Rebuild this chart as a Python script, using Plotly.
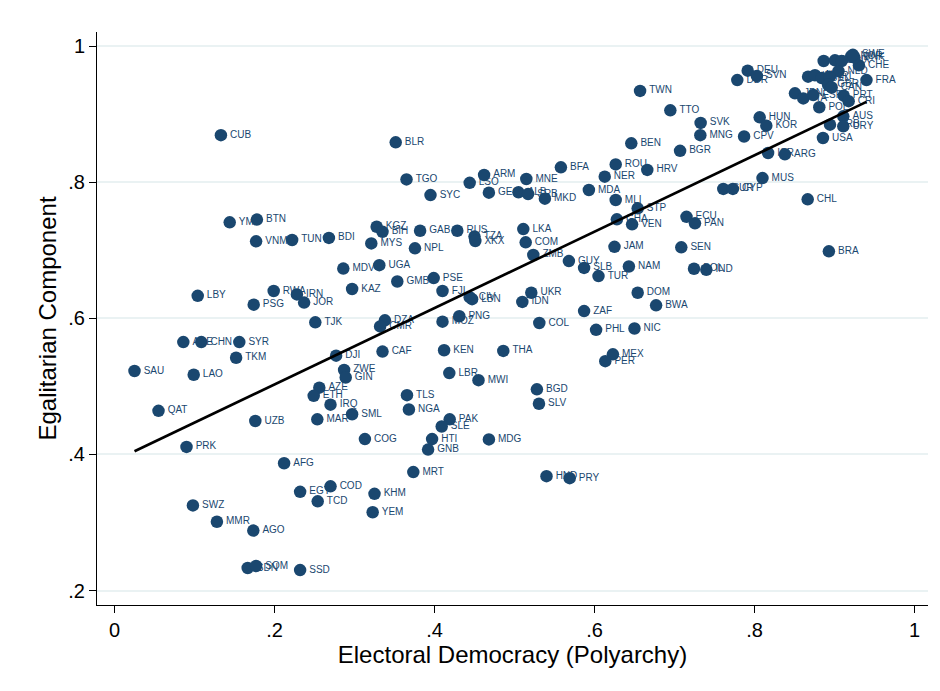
import plotly.graph_objects as go

# ---- data ----
codes = [
    "CUB","YMD","BTN","VNM","TUN","BDI","MYS","MDV","KAZ","LBY","PSG","RWA","IRN","JOR","TJK",
    "ARE","CHN","SYR","TKM","SAU","LAO","QAT","DJI","ZWE","GIN","AZE","ETH","IRQ","SML","DZA",
    "CMR","CAF","UZB","MAR","PRK","AFG","EGY","COD","TCD","SWZ","MMR","AGO","SDN","SOM","SSD",
    "KHM","YEM","COG","NGA","PAK","SLE","HTI","GNB","MDG","MRT","HND","PRY","KGZ","BIH","GAB",
    "RUS","TZA","XKX","LKA","COM","ZMB","GUY","SLB","TUR","JAM","NAM","UGA","NPL","GMB","PSE",
    "FJI","CIV","LBN","UKR","IDN","ZAF","PHL","NIC","COL","PNG","MOZ","KEN","THA","MEX","PER",
    "LBR","MWI","TLS","BGD","SLV","BLR","TGO","SYC","LSO","ARM","GEO","ALB","SRB","MNE","MKD",
    "BFA","MDA","NER","ROU","BEN","TWN","MLI","STP","GHA","VEN","HRV","TTO","SVK","MNG","CPV",
    "BGR","DDR","DEU","SVN","HUN","KOR","ISR","ARG","MUS","SUR","CYP","CHL","USA","AUS","BRB",
    "URY","PRT","CRI","POL","FRA","CHE","DNK","NOR","SWE","ECU","PAN","SEN","BOL","IND","BRA",
    "DOM","BWA","FIN","ISL","LUX","NLD","NZL","AUT","BEL","IRL","GBR","CAN","JPN","ITA","ESP",
]
polyarchy = [
    0.133,0.144,0.178,0.177,0.222,0.268,0.321,0.286,0.297,0.104,0.174,0.199,0.228,0.237,0.251,
    0.086,0.1085,0.156,0.152,0.025,0.099,0.055,0.277,0.287,0.289,0.256,0.249,0.270,0.297,0.338,
    0.332,0.335,0.176,0.2535,0.090,0.212,0.232,0.270,0.254,0.098,0.128,0.1735,0.1665,0.177,0.232,
    0.325,0.3227,0.313,0.368,0.419,0.409,0.397,0.392,0.468,0.3735,0.540,0.569,0.3277,0.335,0.382,
    0.4285,0.450,0.451,0.511,0.514,0.5235,0.568,0.587,0.605,0.625,0.643,0.331,0.3756,0.3535,0.399,
    0.410,0.444,0.447,0.521,0.5098,0.587,0.602,0.650,0.531,0.431,0.410,0.412,0.486,0.623,0.6135,
    0.4185,0.455,0.3656,0.528,0.5306,0.3515,0.365,0.395,0.444,0.462,0.468,0.505,0.517,0.5148,0.538,
    0.558,0.593,0.6128,0.6265,0.646,0.657,0.6265,0.654,0.628,0.647,0.666,0.6948,0.7327,0.7323,0.787,
    0.707,0.7785,0.7915,0.803,0.8065,0.8148,0.817,0.838,0.810,0.761,0.773,0.8665,0.8856,0.911,0.8944,
    0.911,0.9115,0.9177,0.881,0.940,0.9306,0.925,0.921,0.923,0.715,0.7256,0.7085,0.7244,0.7398,0.893,
    0.654,0.677,0.8865,0.9006,0.909,0.905,0.867,0.8756,0.884,0.894,0.892,0.8965,0.8506,0.861,0.8735,
]
egalitarian = [
    0.869,0.741,0.745,0.713,0.715,0.718,0.710,0.673,0.643,0.633,0.620,0.640,0.635,0.623,0.594,
    0.565,0.565,0.565,0.542,0.5225,0.517,0.464,0.545,0.524,0.513,0.498,0.486,0.473,0.459,0.597,
    0.588,0.551,0.449,0.4515,0.411,0.387,0.345,0.353,0.331,0.325,0.301,0.288,0.233,0.236,0.230,
    0.342,0.315,0.4225,0.466,0.4515,0.441,0.4225,0.407,0.422,0.374,0.368,0.365,0.7345,0.727,0.7286,
    0.7286,0.720,0.7135,0.731,0.7116,0.693,0.684,0.674,0.662,0.705,0.676,0.678,0.7028,0.654,0.659,
    0.640,0.631,0.628,0.6375,0.624,0.6106,0.583,0.585,0.593,0.603,0.595,0.553,0.552,0.547,0.537,
    0.5195,0.509,0.487,0.4956,0.4744,0.8585,0.804,0.781,0.799,0.8105,0.7845,0.785,0.7825,0.8046,0.7757,
    0.8218,0.7884,0.808,0.826,0.857,0.934,0.7737,0.7615,0.7454,0.738,0.818,0.9055,0.887,0.869,0.867,
    0.846,0.950,0.9638,0.956,0.8952,0.883,0.8428,0.8408,0.806,0.790,0.790,0.7747,0.8648,0.8967,0.8844,
    0.882,0.927,0.919,0.910,0.950,0.9716,0.983,0.985,0.987,0.749,0.7395,0.7042,0.6728,0.6713,0.6983,
    0.6375,0.619,0.978,0.979,0.978,0.963,0.955,0.957,0.953,0.955,0.943,0.939,0.9305,0.923,0.928,
]

# linear fit
fit_intercept = 0.3906
fit_slope = 0.561

x_ticks = [0, 0.2, 0.4, 0.6, 0.8, 1]
x_tick_labels = ["0", ".2", ".4", ".6", ".8", "1"]
y_ticks = [0.2, 0.4, 0.6, 0.8, 1]
y_tick_labels = [".2", ".4", ".6", ".8", "1"]

navy = "#1a476f"
font_family = "Liberation Sans, Arial, Helvetica, sans-serif"

fig = go.Figure()

# labels (drawn below the markers, like the reference)
fig.add_trace(go.Scatter(
    x=polyarchy, y=egalitarian, text=codes, mode="markers+text",
    textposition="middle right",
    marker=dict(size=13, color="rgba(0,0,0,0)"),
    textfont=dict(family=font_family, size=10, color=navy),
    hoverinfo="skip", showlegend=False,
))
# markers
fig.add_trace(go.Scatter(
    x=polyarchy, y=egalitarian, mode="markers",
    marker=dict(size=12.5, color=navy, line=dict(width=0)),
    showlegend=False,
))
# fitted line
x0, x1 = min(polyarchy), max(polyarchy)
fig.add_trace(go.Scatter(
    x=[x0, x1], y=[fit_intercept + fit_slope * x0, fit_intercept + fit_slope * x1],
    mode="lines", line=dict(color="black", width=2.6), showlegend=False, hoverinfo="skip",
))

fig.update_layout(
    width=940, height=691,
    margin=dict(l=89, r=20, t=24, b=94),
    paper_bgcolor="white", plot_bgcolor="white",
    font=dict(family=font_family, color="black"),
)
fig.update_xaxes(
    range=[-0.0219, 1.0169], tickvals=x_ticks, ticktext=x_tick_labels,
    showgrid=False, zeroline=False, showline=True, linecolor="black", linewidth=1,
    ticks="outside", ticklen=7, tickcolor="black", tickwidth=1,
    tickfont=dict(size=20, family=font_family, color="black"),
    title=dict(text="Electoral Democracy (Polyarchy)", font=dict(size=24, family=font_family, color="black"), standoff=6),
)
fig.update_yaxes(
    range=[0.1787, 1.0206], tickvals=y_ticks, ticktext=y_tick_labels,
    showgrid=True, gridcolor="#eaf2f3", gridwidth=1.5, zeroline=False,
    showline=True, linecolor="black", linewidth=1,
    ticks="outside", ticklen=7, tickcolor="black", tickwidth=1,
    tickfont=dict(size=20, family=font_family, color="black"),
    title=dict(text="Egalitarian Component", font=dict(size=24, family=font_family, color="black"), standoff=4),
)

fig.write_html("out.html")
